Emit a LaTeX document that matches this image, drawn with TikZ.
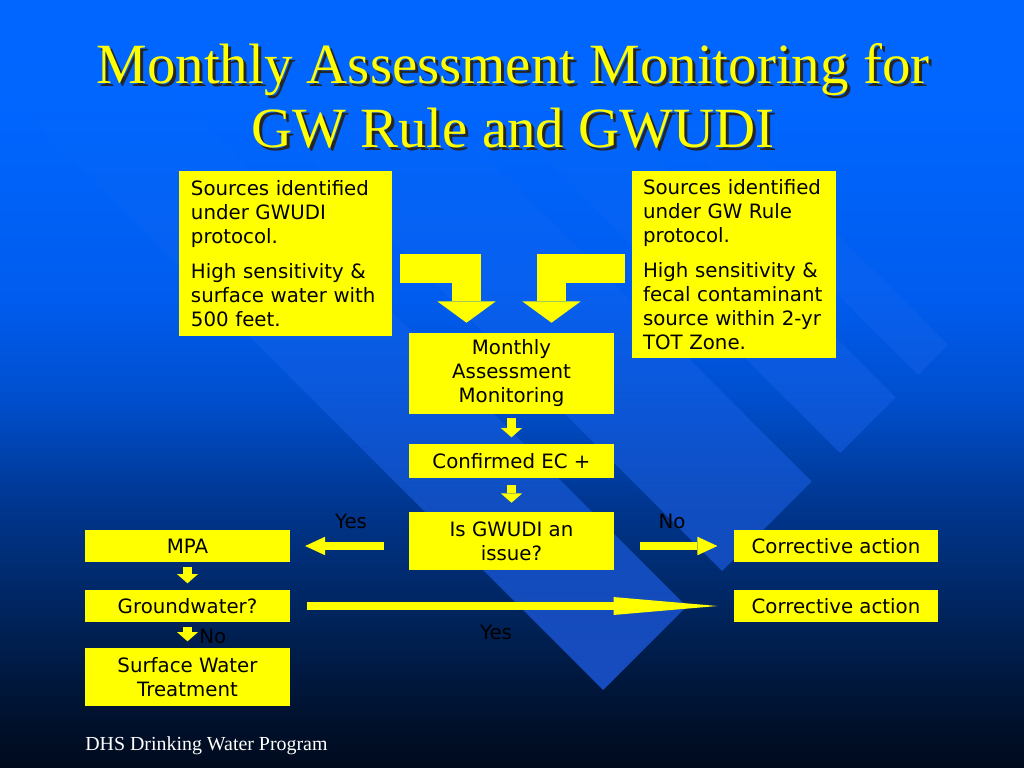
\documentclass[tikz,border=0pt]{standalone}
\usepackage{fontspec}
\setmainfont{Liberation Serif}
\newfontfamily\boxfont{DejaVu Sans}
\usetikzlibrary{arrows.meta,calc,positioning,fadings}

\definecolor{bg0}{RGB}{0,102,255}
\definecolor{bg1}{RGB}{0,92,238}
\definecolor{bg2}{RGB}{0,78,205}
\definecolor{bg3}{RGB}{0,55,145}
\definecolor{bg4}{RGB}{0,38,98}
\definecolor{bg5}{RGB}{0,20,52}
\definecolor{bg6}{RGB}{0,10,28}
\definecolor{bandtop}{RGB}{22,114,255}
\definecolor{bandbot}{RGB}{28,80,205}
\definecolor{boxyellow}{RGB}{255,255,0}
\tikzfading[name=bandfade,top color=transparent!100,middle color=transparent!0,bottom color=transparent!0]

\tikzset{
  box/.style={fill=boxyellow,inner sep=0pt,minimum width=144pt,align=center,
    font=\boxfont\fontsize{13.9}{16.9}\selectfont},
  srcbox/.style={box,align=left,text width=#1,minimum width=0pt},
  lbl/.style={font=\boxfont\fontsize{13.9}{16.9}\selectfont,inner sep=0pt},
  ttl/.style={text=boxyellow,inner sep=0pt,font=\fontsize{40}{45}\selectfont},
  ttlshadow/.style={ttl,text=black!85},
  down/.style={boxyellow,line width=7pt,-{Triangle[length=6.5pt,width=14.8pt,line width=0pt]},
    shorten <=3.5pt,shorten >=4.5pt},
  side/.style={boxyellow,line width=6.3pt,-{Triangle[length=14pt,width=13pt,line width=0pt]}},
  bent/.style={boxyellow,line width=20.5pt,-{Triangle[length=15pt,width=41pt,line width=0pt]},
    shorten >=7pt},
}

\begin{document}
\begin{tikzpicture}[x=0.703125pt,y=-0.703125pt]%[scale=.85]
\useasboundingbox (0,0) rectangle (1024,768);
\fill[bg0] (0,0) rectangle (1024,101);
\shade[top color=bg0,bottom color=bg1] (0,100) rectangle (1024,301);
\shade[top color=bg1,bottom color=bg2] (0,300) rectangle (1024,401);
\shade[top color=bg2,bottom color=bg3] (0,400) rectangle (1024,501);
\shade[top color=bg3,bottom color=bg4] (0,500) rectangle (1024,601);
\shade[top color=bg4,bottom color=bg5] (0,600) rectangle (1024,701);
\shade[top color=bg5,bottom color=bg6] (0,700) rectangle (1024,768);
\begin{scope}
\clip (-193.5,-106.5) -- (603,690) -- (686.5,606.5) -- (-110,-190) -- cycle
      (-74.5,-225.5) -- (722,571) -- (811.5,481.5) -- (15,-315) -- cycle
      (43.5,-343.5) -- (840,453) -- (895.5,397.5) -- (99,-399) -- cycle
      (121.5,-421.5) -- (918,375) -- (948,345) -- (151.5,-451.5) -- cycle;
\shade[top color=bandtop,bottom color=bandbot,path fading=bandfade] (0,60) rectangle (1024,768);
\end{scope}

\node[ttlshadow,anchor=base] (t1s) at (516,87) {Monthly Assessment Monitoring for};
\node[ttl,anchor=base] (t1) at (513,84) {Monthly Assessment Monitoring for};
\node[ttlshadow,anchor=base] (t2s) at (516,151) {GW Rule and GWUDI};
\node[ttl,anchor=base] (t2) at (513,148) {GW Rule and GWUDI};

\node[srcbox=132.9pt,inner xsep=8.4pt,minimum height=116pt] (gwudi) at (285.5,253.5)
  {Sources identified\\under GWUDI\\protocol.\\[8pt]High sensitivity \&\\surface water with\\500 feet.};
\node[srcbox=127.9pt,inner xsep=7.7pt,minimum height=131.5pt] (gwrule) at (734,264.5)
  {Sources identified\\under GW Rule\\protocol.\\[8pt]High sensitivity \&\\fecal contaminant\\source within 2-yr\\TOT Zone.};
\node[box,minimum height=57pt] (mon) at (511.5,373.5) {Monthly\\Assessment\\Monitoring};
\node[box,minimum height=23.9pt] (conf) at (511.5,461) {Confirmed EC +};
\node[box,minimum height=40.8pt] (isg) at (511.5,541) {Is GWUDI an\\issue?};
\node[box,minimum height=22.5pt] (mpa) at (187.5,546) {MPA};
\node[box,minimum height=22.5pt] (gw) at (187.5,606) {Groundwater?};
\node[box,minimum height=40.8pt] (swt) at (187.5,677) {Surface Water\\Treatment};
\node[box,minimum height=22.5pt] (ca1) at (836,546) {Corrective action};
\node[box,minimum height=22.5pt] (ca2) at (836,606) {Corrective action};

\coordinate (barL) at (400,268.5);
\coordinate (barR) at (625,268.5);
\draw[bent] (barL) -| ($(mon.north)+(-45,0)$);
\draw[bent] (barR) -| ($(mon.north)+(40,0)$);

\draw[down,shorten <=2.8pt] (mon) -- (conf);
\draw[down,shorten <=4.9pt,shorten >=6.3pt] (conf) -- (isg);
\draw[down] (mpa) -- (gw);
\draw[down] (gw) -- (swt);
\draw[side,shorten <=17.6pt,shorten >=10.5pt] (isg.west |- mpa.east) -- (mpa.east);
\draw[side,shorten <=18.3pt,shorten >=11.2pt] (isg.east |- ca1.west) -- (ca1.west);
\draw[boxyellow,line width=5.9pt,-{Triangle[length=73pt,width=12.6pt,line width=0pt]},
  shorten <=12pt,shorten >=11.2pt] (gw.east) -- (ca2.west);

\node[lbl] (yesL) at (351,521) {Yes};
\node[lbl] (noR) at (672,521) {No};
\node[lbl] (yesB) at (496,632) {Yes};
\node[lbl,anchor=west] (noB) at (199,636) {No};

\node[anchor=base west,inner sep=0pt,text=white,font=\fontsize{14}{16}\selectfont] (foot)
  at (85,750) {DHS Drinking Water Program};
\end{tikzpicture}
\end{document}
